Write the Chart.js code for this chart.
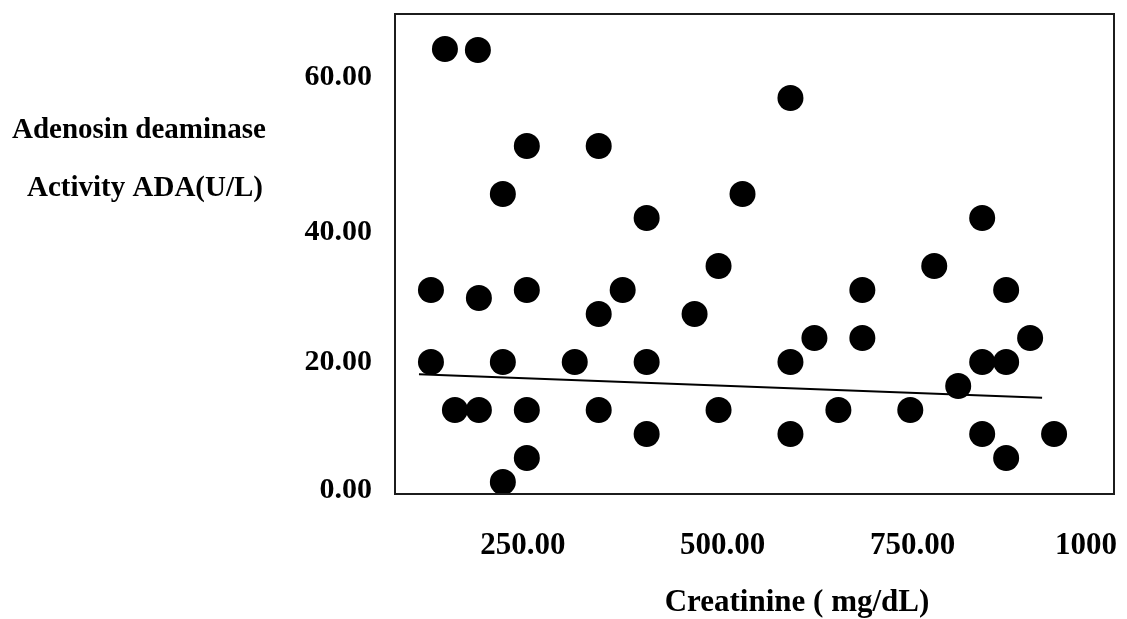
<!DOCTYPE html>
<html>
<head>
<meta charset="utf-8">
<title>ADA vs Creatinine</title>
<script src="https://cdn.jsdelivr.net/npm/chart.js@4.4.1/dist/chart.umd.min.js"></script>
<style>
  html, body { margin: 0; padding: 0; background: #fff; }
  #wrap { width: 1127px; height: 619px; }
</style>
</head>
<body>
<div id="wrap"><canvas id="chart" width="1127" height="619"></canvas></div>
<script>
// values
const creatinine = [135, 135, 152.5, 165, 193.75, 195, 195, 225, 225, 225, 255, 255, 255, 255,
  315, 345, 345, 345, 375, 405, 405, 405, 465, 495, 495, 525, 585, 585, 585, 615, 645,
  675, 675, 735, 765, 795, 825, 825, 825, 855, 855, 855, 885, 915];
const ada = [31.25, 20, 68.9, 12.5, 68.75, 30, 12.5, 46.25, 20, 1.25, 53.75, 31.25, 12.5, 5,
  20, 53.75, 27.5, 12.5, 31.25, 42.5, 20, 8.75, 27.5, 35, 12.5, 46.25, 61.25, 20, 8.75, 23.75, 12.5,
  31.25, 23.75, 12.5, 35, 16.25, 42.5, 20, 8.75, 31.25, 20, 5, 23.75, 8.75];

// fitted line, the two ends as drawn
const trendX = [120, 900];
const trendY = [18.1, 14.4];

// axis labels sit where the original put them
const xTickAt = [250, 500, 738, 955];
const xTickLabels = ['250.00', '500.00', '750.00', '1000'];
const yTickAt = [0, 20, 40.3, 64.5];
const yTickLabels = ['0.00', '20.00', '40.00', '60.00'];

const xTitle = 'Creatinine ( mg/dL)';
const yTitle = ['Adenosin deaminase', 'Activity ADA(U/L)'];

const serif = '"Liberation Serif", "Times New Roman", serif';

// box round the plot + the two axis captions
const frameAndCaptions = {
  id: 'frameAndCaptions',
  afterDatasetsDraw(chart) {
    const { ctx, chartArea: a } = chart;
    ctx.save();
    ctx.strokeStyle = '#1c1c1c';
    ctx.lineWidth = 2;
    ctx.strokeRect(a.left, a.top, a.right - a.left, a.bottom - a.top);

    ctx.fillStyle = '#000';
    ctx.textBaseline = 'middle';
    ctx.textAlign = 'left';
    ctx.font = 'bold 29px ' + serif;
    ctx.fillText(yTitle[0], 12, 131);
    ctx.fillText(yTitle[1], 27, 189);

    ctx.textAlign = 'center';
    ctx.font = 'bold 31px ' + serif;
    ctx.fillText(xTitle, 797, 603);
    ctx.restore();
  }
};

const ctx = document.getElementById('chart').getContext('2d');
new Chart(ctx, {
  data: {
    datasets: [
      {
        type: 'scatter',
        data: creatinine.map((x, i) => ({ x: x, y: ada[i] })),
        backgroundColor: '#000',
        borderWidth: 0,
        pointRadius: 13,
        pointHoverRadius: 13
      },
      {
        type: 'line',
        data: trendX.map((x, i) => ({ x: x, y: trendY[i] })),
        borderColor: '#000',
        borderWidth: 2,
        pointRadius: 0,
        fill: false
      }
    ]
  },
  options: {
    responsive: false,
    animation: false,
    events: [],
    layout: { padding: { left: 0, top: 14, right: 12, bottom: 0 } },
    plugins: {
      legend: { display: false },
      tooltip: { enabled: false }
    },
    scales: {
      x: {
        type: 'linear',
        min: 90,
        max: 990,
        grid: { display: false, drawTicks: false },
        border: { display: false },
        afterBuildTicks: scale => { scale.ticks = xTickAt.map(v => ({ value: v })); },
        afterFit: scale => {
          scale.height = 125;
          scale.paddingLeft = 0;
          scale.paddingRight = 0;
        },
        ticks: {
          autoSkip: false,
          maxRotation: 0,
          padding: 33,
          color: '#000',
          font: { family: serif, size: 31, weight: 'bold' },
          callback: (v, i) => xTickLabels[i]
        }
      },
      y: {
        type: 'linear',
        min: -0.625,
        max: 74.375,
        grid: { display: false, drawTicks: false },
        border: { display: false },
        afterBuildTicks: scale => { scale.ticks = yTickAt.map(v => ({ value: v })); },
        afterFit: scale => {
          scale.width = 395;
          scale.paddingTop = 0;
          scale.paddingBottom = 0;
        },
        ticks: {
          autoSkip: false,
          padding: 23,
          color: '#000',
          font: { family: serif, size: 30, weight: 'bold' },
          callback: (v, i) => yTickLabels[i]
        }
      }
    }
  },
  plugins: [frameAndCaptions]
});
</script>
</body>
</html>
